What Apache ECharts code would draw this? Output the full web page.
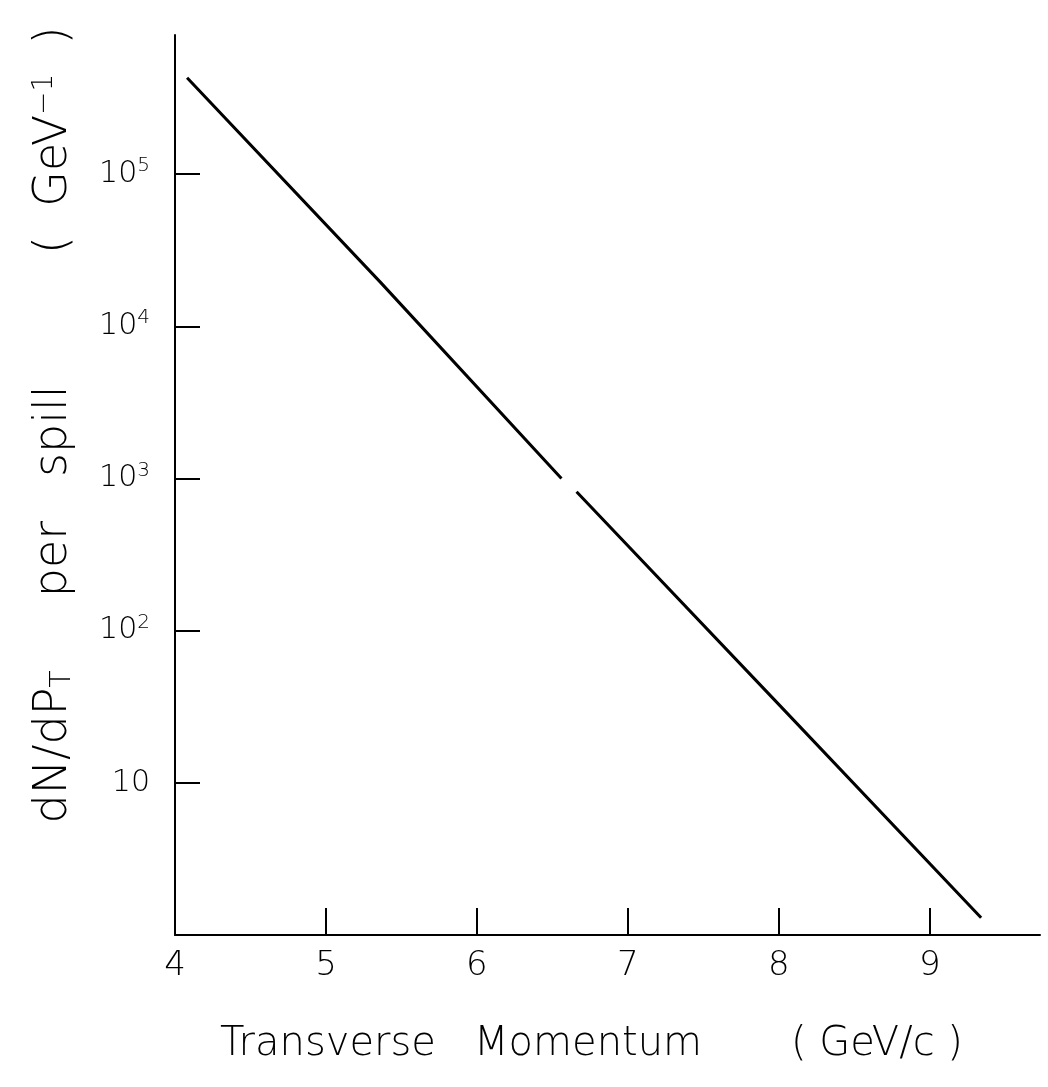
<!DOCTYPE html>
<html>
<head>
<meta charset="utf-8">
<script src="https://cdn.jsdelivr.net/npm/echarts@6/dist/echarts.min.js"></script>
<style>
  html, body { margin: 0; padding: 0; background: #fff; }
  #chart { width: 1048px; height: 1087px; }
</style>
</head>
<body>
<div id="chart"></div>
<script>
// transverse momentum (GeV/c) and dN/dPT per spill
// the null marks the small break in the pen stroke near 6.6
const pt = [4.08, 5.36, 6.56, 6.61, 6.66, 7.96, 9.34];
const dndpt = [430000, 19500, 1000, null, 817, 36, 1.3];

const xTicks = [4, 5, 6, 7, 8, 9];
const yTicks = [1, 10, 100, 1000, 10000, 100000];

const font = 'DejaVu Sans';
const ink = '#000';

const chart = echarts.init(document.getElementById('chart'));

const option = {
  animation: false,
  backgroundColor: '#fff',
  grid: { left: 175, right: 8, top: 35, bottom: 152 },
  xAxis: {
    type: 'value',
    min: 4,
    max: 9.73,
    name: 'Transverse   Momentum       ( GeV/c )',
    nameLocation: 'middle',
    nameGap: 90,
    nameTextStyle: { color: ink, fontSize: 40, fontFamily: font, fontWeight: 'lighter', padding: [0, 32, 0, 0] },
    axisLine: { lineStyle: { color: ink, width: 2 } },
    axisTick: { inside: true, length: 27, customValues: xTicks.slice(1), lineStyle: { color: ink, width: 2 } },
    axisLabel: { customValues: xTicks, margin: 14, color: ink, fontSize: 34, fontFamily: font, fontWeight: 'lighter' },
    splitLine: { show: false }
  },
  yAxis: {
    type: 'log',
    logBase: 10,
    min: 1,
    max: 820000,
    name: 'dN/dP{sub|T}     per   spill         (  GeV{sup|−1}  )',
    nameLocation: 'middle',
    nameGap: 98,
    nameRotate: 90,
    nameTextStyle: {
      color: ink, fontSize: 46, fontFamily: font, fontWeight: 'lighter',
      padding: [0, 0, 0, 120],
      rich: {
        sub: { fontSize: 28, fontFamily: font, fontWeight: 'lighter', color: ink, padding: [18, 0, 0, 0] },
        sup: { fontSize: 28, fontFamily: font, fontWeight: 'lighter', color: ink, padding: [0, 0, 18, 0] }
      }
    },
    axisLine: { lineStyle: { color: ink, width: 2 } },
    axisTick: { inside: true, length: 25, customValues: yTicks.slice(1), lineStyle: { color: ink, width: 2 } },
    axisLabel: {
      customValues: yTicks.slice(1),
      margin: 25,
      color: ink,
      fontSize: 30,
      fontFamily: font,
      fontWeight: 'lighter',
      formatter: function (v) {
        const e = Math.round(Math.log10(v));
        if (e === 1) return '10';
        return '10{sup|' + e + '}';
      },
      rich: {
        sup: { fontSize: 20, fontFamily: font, fontWeight: 'lighter', color: ink, padding: [0, 0, 16, 0] }
      }
    },
    splitLine: { show: false }
  },
  series: [
    {
      type: 'line',
      data: pt.map((x, i) => [x, dndpt[i] === null ? '-' : dndpt[i]]),
      showSymbol: false,
      connectNulls: false,
      lineStyle: { color: ink, width: 3 }
    }
  ]
};

chart.setOption(option);
</script>
</body>
</html>
